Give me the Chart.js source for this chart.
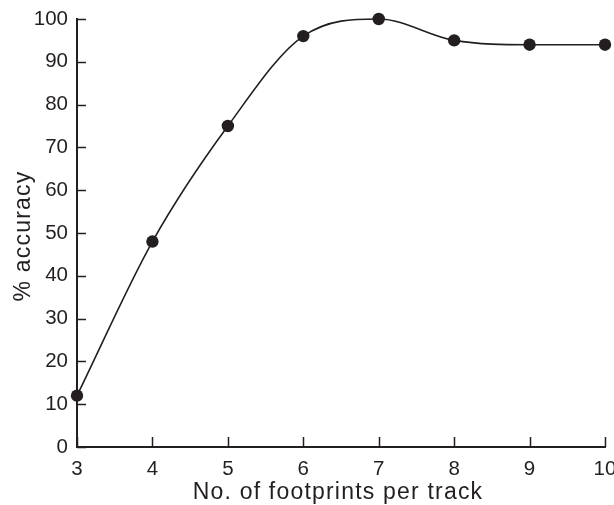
<!DOCTYPE html>
<html>
<head>
<meta charset="utf-8">
<script src="https://cdn.jsdelivr.net/npm/chart.js@4"></script>
<style>
  html, body { margin: 0; padding: 0; background: #fff; }
  #wrap { width: 614px; height: 505px; }
</style>
</head>
<body>
<div id="wrap"><canvas id="chart" width="614" height="505"></canvas></div>
<script>
const footprints = [3, 4, 5, 6, 7, 8, 9, 10];
const accuracy = [12, 48, 75, 96, 100, 95, 94, 94];
const xTitle = 'No. of footprints per track';
const yTitle = '% accuracy';
const ink = '#231f20';

// ticks in this figure point inward, so draw them ourselves from the scales
const inwardTicks = {
  id: 'inwardTicks',
  afterDraw(chart) {
    const ctx = chart.ctx;
    const xs = chart.scales.x, ys = chart.scales.y;
    ctx.save();
    ctx.strokeStyle = ink;
    ctx.lineWidth = 1.5;
    ctx.beginPath();
    ys.ticks.forEach((t, i) => {
      const py = Math.round(ys.getPixelForTick(i)) + 0.5;
      ctx.moveTo(xs.left, py);
      ctx.lineTo(xs.left + 9, py);
    });
    xs.ticks.forEach((t, i) => {
      const px = Math.round(xs.getPixelForTick(i)) + 0.5;
      ctx.moveTo(px, ys.bottom);
      ctx.lineTo(px, ys.bottom - 10);
    });
    ctx.stroke();
    ctx.restore();
  }
};

// axis titles are set a little wider than the tick font, so draw them with letter spacing
const spacedTitles = {
  id: 'spacedTitles',
  afterDraw(chart) {
    const ctx = chart.ctx;
    const area = chart.chartArea;
    ctx.save();
    ctx.fillStyle = ink;
    ctx.font = '23px "Liberation Sans"';
    ctx.letterSpacing = '1.2px';
    ctx.textAlign = 'center';
    ctx.textBaseline = 'alphabetic';
    ctx.fillText(xTitle, (area.left + area.right) / 2 - 3, 499);
    ctx.translate(30, (area.top + area.bottom) / 2 + 3);
    ctx.rotate(-Math.PI / 2);
    ctx.fillText(yTitle, 0, 0);
    ctx.restore();
  }
};

new Chart(document.getElementById('chart'), {
  type: 'line',
  data: {
    datasets: [{
      data: footprints.map((f, i) => ({ x: f, y: accuracy[i] })),
      borderColor: ink,
      borderWidth: 1.6,
      backgroundColor: ink,
      pointRadius: 6.2,
      pointBorderWidth: 0,
      pointBackgroundColor: ink,
      cubicInterpolationMode: 'monotone',
      clip: false
    }]
  },
  options: {
    responsive: false,
    animation: false,
    layout: { padding: { top: 19, right: 9, left: 0, bottom: 0 } },
    plugins: { legend: { display: false }, tooltip: { enabled: false } },
    scales: {
      x: {
        type: 'linear',
        min: 3, max: 10,
        afterFit(s) { s.height = 58; s.paddingLeft = 0; s.paddingRight = 0; },
        grid: { display: true, drawOnChartArea: false, drawTicks: false },
        border: { color: ink, width: 2 },
        ticks: { stepSize: 1, color: ink, padding: 10, font: { family: 'Liberation Sans', size: 20.5 } }
      },
      y: {
        min: 0, max: 100,
        afterFit(s) { s.width = 77; s.paddingTop = 0; s.paddingBottom = 0; },
        grid: { display: true, drawOnChartArea: false, drawTicks: false },
        border: { color: ink, width: 2 },
        ticks: { stepSize: 10, color: ink, padding: 9, font: { family: 'Liberation Sans', size: 20.5 } }
      }
    }
  },
  plugins: [inwardTicks, spacedTitles]
});
</script>
</body>
</html>
